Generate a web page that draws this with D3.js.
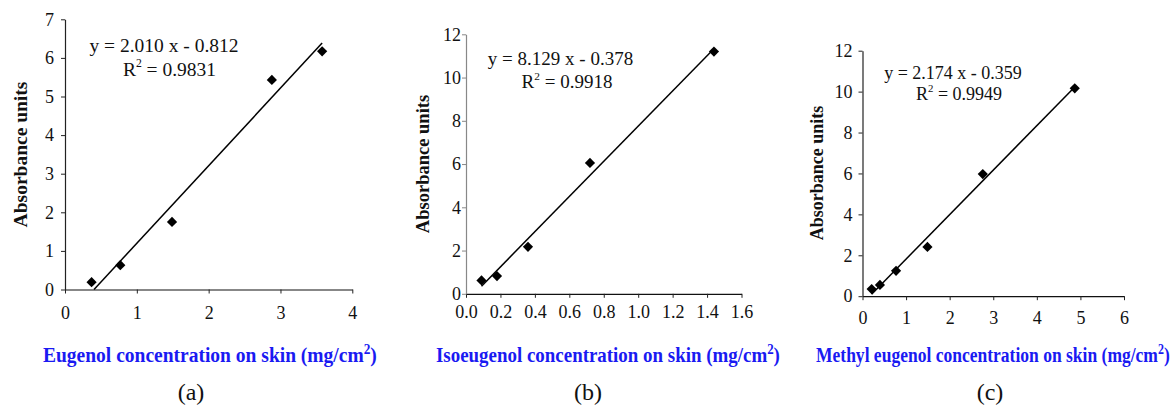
<!DOCTYPE html>
<html>
<head>
<meta charset="utf-8">
<script src="https://cdn.jsdelivr.net/npm/d3@7"></script>
<style>
  body { margin: 0; background: #fff; }
  svg { display: block; }
</style>
</head>
<body>
<svg id="fig" width="1173" height="407" font-family="'Liberation Serif', 'Times New Roman', Times, serif"></svg>
<script>
// ---- Eugenol ----
const eugenolConc = [0.37, 0.77, 1.49, 2.88, 3.58];
const eugenolAbs  = [0.19, 0.63, 1.75, 5.43, 6.17];
const eugenolFit  = [2.010, -0.812, 0.9831];          // slope, intercept, R²
const eugenolXTicks = [0, 1, 2, 3, 4];
const eugenolYTicks = [0, 1, 2, 3, 4, 5, 6, 7];

// ---- Isoeugenol ----
const isoeugenolConc = [0.09, 0.18, 0.36, 0.72, 1.44];
const isoeugenolAbs  = [0.62, 0.82, 2.17, 6.05, 11.2];
const isoeugenolFit  = [8.129, -0.378, 0.9918];
const isoeugenolXTicks = [0, 0.2, 0.4, 0.6, 0.8, 1.0, 1.2, 1.4, 1.6];
const isoeugenolYTicks = [0, 2, 4, 6, 8, 10, 12];

// ---- Methyl eugenol ----
const methylConc = [0.21, 0.40, 0.77, 1.49, 2.76, 4.87];
const methylAbs  = [0.35, 0.55, 1.24, 2.41, 5.97, 10.16];
const methylFit  = [2.174, -0.359, 0.9949];
const methylXTicks = [0, 1, 2, 3, 4, 5, 6];
const methylYTicks = [0, 2, 4, 6, 8, 10, 12];

const xTitles = [
  "Eugenol concentration on skin (mg/cm",
  "Isoeugenol concentration on skin (mg/cm",
  "Methyl eugenol concentration on skin (mg/cm"
];
const panelTags = ["(a)", "(b)", "(c)"];

const SERIF = "'Liberation Serif', 'Times New Roman', Times, serif";

// Panel geometry and styling
const panels = [
  { xs: eugenolConc, ys: eugenolAbs, fit: eugenolFit, xt: eugenolXTicks, yt: eugenolYTicks, xfmt: d3.format("d"),
    left: 65, right: 352.3, bottom: 289.5, top: 19.3, yPad: 7, xPad: 13,
    yAxisColor: "#222", yTitle: [20, 154.5, 19.5],
    eq: [164, 51.5, 19.5], r2: [169.5, 75.5],
    xTitle: [43, 377, 362], tag: [191, 400] },
  { xs: isoeugenolConc, ys: isoeugenolAbs, fit: isoeugenolFit, xt: isoeugenolXTicks, yt: isoeugenolYTicks, xfmt: d3.format(".1f"),
    left: 466, right: 741.5, bottom: 293.8, top: 34.3, yPad: 1, xPad: 7.5,
    yAxisColor: "#888", yTitle: [423, 164, 18.5],
    eq: [560.5, 65, 19], r2: [567, 87.5],
    xTitle: [436, 780, 362], tag: [588, 400] },
  { xs: methylConc, ys: methylAbs, fit: methylFit, xt: methylXTicks, yt: methylYTicks, xfmt: d3.format("d"),
    left: 862.5, right: 1124, bottom: 296.2, top: 50.7, yPad: 6, xPad: 11.5,
    yAxisColor: "#222", yTitle: [817, 173, 18],
    eq: [953, 79, 18], r2: [959, 100],
    xTitle: [816, 1170, 362], tag: [990, 400] }
];

const svg = d3.select("#fig");

panels.forEach((p, i) => {
  const g = svg.append("g");
  const x = d3.scaleLinear()
    .domain([p.xt[0], p.xt[p.xt.length - 1]])
    .range([p.left, p.right]);
  const y = d3.scaleLinear()
    .domain([p.yt[0], p.yt[p.yt.length - 1]])
    .range([p.bottom, p.top]);

  // axes
  const xAxis = g.append("g")
    .attr("transform", `translate(0,${p.bottom})`)
    .call(d3.axisBottom(x).tickValues(p.xt).tickFormat(p.xfmt)
      .tickSize(4).tickSizeOuter(0).tickPadding(p.xPad));
  const yAxis = g.append("g")
    .attr("transform", `translate(${p.left},0)`)
    .call(d3.axisLeft(y).tickValues(p.yt).tickFormat(d3.format("d"))
      .tickSize(4).tickSizeOuter(0).tickPadding(p.yPad));
  [xAxis, yAxis].forEach(a => {
    a.attr("font-family", SERIF).attr("font-size", 18);
    a.selectAll("text").attr("font-family", SERIF).attr("font-size", 18).attr("fill", "#111");
    a.selectAll("line").attr("stroke", "#222").attr("stroke-width", 1);
  });
  xAxis.select(".domain").attr("stroke", "#111").attr("stroke-width", 1.2);
  yAxis.select(".domain").attr("stroke", p.yAxisColor).attr("stroke-width", 1.2);
  yAxis.selectAll(".tick line").attr("stroke", p.yAxisColor);

  // linear trend line from the fitted equation, over the data range (kept above y = 0)
  const [m, b, r2] = p.fit;
  const x0 = Math.max(d3.min(p.xs), -b / m);
  const x1 = d3.max(p.xs);
  g.append("line")
    .attr("x1", x(x0)).attr("y1", y(m * x0 + b))
    .attr("x2", x(x1)).attr("y2", y(m * x1 + b))
    .attr("stroke", "#000").attr("stroke-width", 1.5);

  // data points (diamonds)
  const diamond = d3.symbol(d3.symbolSquare, 52);
  g.selectAll("path.pt")
    .data(p.xs.map((v, k) => [v, p.ys[k]]))
    .join("path")
    .attr("class", "pt")
    .attr("d", diamond)
    .attr("transform", d => `translate(${x(d[0])},${y(d[1])}) rotate(45)`)
    .attr("fill", "#000");

  // equation and R²
  const sign = b < 0 ? "-" : "+";
  g.append("text")
    .attr("x", p.eq[0]).attr("y", p.eq[1])
    .attr("font-family", SERIF)
    .attr("text-anchor", "middle").attr("font-size", p.eq[2]).attr("fill", "#111")
    .text(`y = ${m.toFixed(3)} x ${sign} ${Math.abs(b).toFixed(3)}`);
  const rt = g.append("text")
    .attr("x", p.r2[0]).attr("y", p.r2[1])
    .attr("font-family", SERIF)
    .attr("text-anchor", "middle").attr("font-size", p.eq[2]).attr("fill", "#111");
  rt.append("tspan").text("R");
  rt.append("tspan").attr("font-size", p.eq[2] * 0.6).attr("dy", -p.eq[2] * 0.42).text("2");
  rt.append("tspan").attr("dy", p.eq[2] * 0.42).text(` = ${r2.toFixed(4)}`);

  // y-axis title
  g.append("text")
    .attr("transform", `translate(${p.yTitle[0]},${p.yTitle[1]}) rotate(-90)`)
    .attr("font-family", SERIF)
    .attr("text-anchor", "middle").attr("dominant-baseline", "central")
    .attr("font-weight", "bold").attr("font-size", p.yTitle[2]).attr("fill", "#111")
    .text("Absorbance units");

  // x-axis title (condensed bold blue)
  const xt = g.append("text")
    .attr("font-family", SERIF)
    .attr("font-weight", "bold").attr("font-size", 22).attr("fill", "#1a1af2");
  xt.append("tspan").text(xTitles[i]);
  xt.append("tspan").attr("font-size", 15).attr("dy", -8).text("2");
  xt.append("tspan").attr("dy", 8).text(")");
  const w = xt.node().getComputedTextLength();
  const [tx0, tx1, tb] = p.xTitle;
  xt.attr("transform", `translate(${tx0},${tb}) scale(${(tx1 - tx0) / w},1)`);

  // panel tag
  g.append("text")
    .attr("x", p.tag[0]).attr("y", p.tag[1])
    .attr("font-family", SERIF)
    .attr("text-anchor", "middle").attr("font-size", 24).attr("fill", "#111")
    .text(panelTags[i]);
});
</script>
</body>
</html>
